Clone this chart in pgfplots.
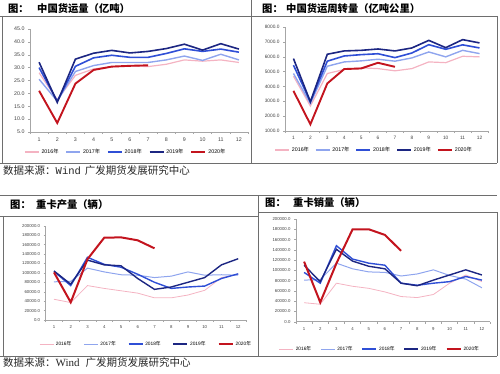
\documentclass[border=0pt]{standalone}
\usepackage{fontspec}
\setmainfont{Liberation Sans}
\newfontfamily\cjk{Noto Sans CJK SC}
\newfontfamily\wmono{Liberation Mono}
\newfontfamily\wserif{Liberation Serif}
\usepackage{pgfplots}
\pgfplotsset{compat=1.18}
\definecolor{c16}{HTML}{F4B3C2}
\definecolor{c17}{HTML}{8FA5EE}
\definecolor{c18}{HTML}{2F4FD6}
\definecolor{c19}{HTML}{1C2682}
\definecolor{c20}{HTML}{C3141E}
\definecolor{axc}{HTML}{A6A6A6}
\definecolor{tkc}{HTML}{404040}
\definecolor{frm}{HTML}{6E6E6E}
\pgfplotsset{
  ex/.style={scale only axis, anchor=south west,
    axis x line*=bottom, axis y line*=left,
    axis line style={axc, line width=0.5pt},
    xmin=0.5, xmax=12.5, xtick={1,...,12},
    major x tick style={draw=none},
    minor xtick={0.5,1.5,...,12.5},
    tick align=outside, major tick length=2pt, minor tick length=2pt,
    every tick/.style={axc, line width=0.4pt},
    minor tick style={axc, line width=0.4pt},
    tick label style={text=tkc},
    /pgf/number format/assume math mode=true,
    yticklabel style={/pgf/number format/.cd, fixed, fixed zerofill, precision=1, 1000 sep={}},
    legend columns=5,
    legend image code/.code={\draw[##1] (0pt,0pt) -- (14pt,0pt);},
    clip=false,
  },
  s16/.style={c16, line width=1.2pt, no marks},
  s17/.style={c17, line width=1.4pt, no marks},
  s18/.style={c18, line width=1.6pt, no marks},
  s19/.style={c19, line width=1.6pt, no marks},
  s20/.style={c20, line width=1.9pt, no marks},
}
\begin{document}
\begin{tikzpicture}
\path[use as bounding box] (0pt,0pt) rectangle (500pt,373pt);
% frames
\begin{scope}[frm, line width=0.7pt]
\draw (0pt,357pt) -- (497pt,357pt);
\draw (2pt,357pt) -- (2pt,210pt);
\draw (251pt,373pt) -- (251pt,210pt);
\draw (497pt,357pt) -- (497pt,210pt);
\draw (0pt,210pt) -- (497pt,210pt);
\draw (0pt,178pt) -- (497pt,178pt);
\draw (0pt,157pt) -- (258pt,157pt);
\draw (258pt,161pt) -- (497pt,161pt);
\draw (3pt,157pt) -- (3pt,17pt);
\draw (258pt,178pt) -- (258pt,17pt);
\draw (497pt,161pt) -- (497pt,17pt);
\draw (0pt,17pt) -- (497pt,17pt);
\end{scope}
% titles
\begin{scope}[font=\cjk\bfseries\fontsize{10.3}{12}\selectfont, inner sep=0pt]
\node[anchor=west] at (8pt,364pt) {图：};
\node[anchor=west] at (37pt,364pt) {中国货运量（亿吨）};
\node[anchor=west] at (262pt,364pt) {图：};
\node[anchor=west] at (286pt,364pt) {中国货运周转量（亿吨公里）};
\node[anchor=west] at (10pt,168.5pt) {图：};
\node[anchor=west] at (36pt,168.5pt) {重卡产量（辆）};
\node[anchor=west] at (265pt,170pt) {图：};
\node[anchor=west] at (293pt,170pt) {重卡销量（辆）};
\end{scope}
\begin{scope}[font=\cjk\fontsize{10.5}{12}\selectfont, inner sep=0pt, text=black!85]
\node[anchor=west] at (3pt,202pt) {数据来源：{\wmono Wind}\hspace{4pt}广发期货发展研究中心};
\node[anchor=west] at (3pt,10.3pt) {数据来源：{\wserif\fontsize{11}{12}\selectfont Wind}\hspace{6pt}广发期货发展研究中心};
\end{scope}
% ---------- chart 1
\begin{axis}[ex, at={(30pt,241pt)}, width=218pt, height=103pt,
  ymin=5, ymax=45, ytick={5,10,...,45},
  tick label style={font=\fontsize{5.3}{6}\selectfont},
  legend style={at={(0.44,-0.194)}, anchor=center, draw=none, fill=none,
    font=\fontsize{5.3}{6}\selectfont, /tikz/every even column/.append style={column sep=5pt}}]
\addplot[s16] coordinates {(1,28)(2,17.5)(3,27)(4,29.5)(5,30.3)(6,30.7)(7,30.4)(8,31.3)(9,33)(10,32.5)(11,33)(12,32)};
\addlegendentry{2016{\cjk 年}}
\addplot[s17] coordinates {(1,25.5)(2,17)(3,28.5)(4,30.8)(5,32)(6,32)(7,32)(8,33)(9,34.5)(10,32.8)(11,35.2)(12,33)};
\addlegendentry{2017{\cjk 年}}
\addplot[s18] coordinates {(1,30)(2,17)(3,30.5)(4,33.8)(5,34.8)(6,34)(7,34)(8,35.5)(9,37.3)(10,36.3)(11,37.2)(12,36)};
\addlegendentry{2018{\cjk 年}}
\addplot[s19] coordinates {(1,32.1)(2,16.5)(3,33.3)(4,35.6)(5,36.7)(6,35.7)(7,36.3)(8,37.4)(9,39.1)(10,36.8)(11,39.3)(12,37.2)};
\addlegendentry{2019{\cjk 年}}
\addplot[s20] coordinates {(1,21)(2,8.5)(3,23.8)(4,29.1)(5,30.4)(6,30.7)(7,30.9)};
\addlegendentry{2020{\cjk 年}}
\end{axis}
% ---------- chart 2
\begin{axis}[ex, at={(285pt,242pt)}, width=203pt, height=104pt,
  ymin=1000, ymax=8000, ytick={1000,2000,...,8000},
  tick label style={font=\fontsize{4.8}{5.5}\selectfont},
  legend style={at={(0.44,-0.183)}, anchor=center, draw=none, fill=none,
    font=\fontsize{5.3}{6}\selectfont, /tikz/every even column/.append style={column sep=4pt}}]
\addplot[s16] coordinates {(1,4690)(2,2680)(3,4870)(4,5140)(5,5250)(6,5200)(7,5050)(8,5200)(9,5650)(10,5600)(11,6030)(12,5990)};
\addlegendentry{2016{\cjk 年}}
\addplot[s17] coordinates {(1,4870)(2,2850)(3,5360)(4,5650)(5,5720)(6,5830)(7,5700)(8,5920)(9,6320)(10,5990)(11,6430)(12,6210)};
\addlegendentry{2017{\cjk 年}}
\addplot[s18] coordinates {(1,5430)(2,2970)(3,5700)(4,6050)(5,6140)(6,6200)(7,5940)(8,6250)(9,6810)(10,6500)(11,6800)(12,6590)};
\addlegendentry{2018{\cjk 年}}
\addplot[s19] coordinates {(1,5875)(2,2966)(3,6166)(4,6390)(5,6430)(6,6520)(7,6390)(8,6590)(9,7100)(10,6610)(11,7150)(12,6930)};
\addlegendentry{2019{\cjk 年}}
\addplot[s20] coordinates {(1,3700)(2,1450)(3,4200)(4,5170)(5,5210)(6,5590)(7,5320)};
\addlegendentry{2020{\cjk 年}}
\end{axis}
% ---------- chart 3
\begin{axis}[ex, at={(45.6pt,53pt)}, width=201pt, height=94.3pt,
  ymin=0, ymax=200000, ytick={0,20000,...,200000}, scaled y ticks=false,
  tick label style={font=\fontsize{4.3}{5}\selectfont},
  legend style={at={(0.5,-0.255)}, anchor=center, draw=none, fill=none,
    font=\fontsize{4.8}{6}\selectfont, /tikz/every even column/.append style={column sep=10pt}}]
\addplot[s16, line width=0.8pt] coordinates {(1,44000)(2,37000)(3,73000)(4,67000)(5,62000)(6,57000)(7,47000)(8,47000)(9,53000)(10,63000)(11,90000)(12,97000)};
\addlegendentry{2016{\cjk 年}}
\addplot[s17, line width=1pt] coordinates {(1,81000)(2,82000)(3,110000)(4,102000)(5,96000)(6,95000)(7,90000)(8,93000)(9,102000)(10,95000)(11,96000)(12,95000)};
\addlegendentry{2017{\cjk 年}}
\addplot[s18, line width=1.4pt] coordinates {(1,103000)(2,73000)(3,133000)(4,118000)(5,112000)(6,97000)(7,80000)(8,67000)(9,70000)(10,72000)(11,88000)(12,98000)};
\addlegendentry{2018{\cjk 年}}
\addplot[s19, line width=1.4pt] coordinates {(1,104000)(2,76000)(3,127000)(4,117000)(5,115000)(6,88000)(7,65000)(8,70000)(9,80000)(10,90000)(11,117000)(12,130000)};
\addlegendentry{2019{\cjk 年}}
\addplot[s20, line width=2pt] coordinates {(1,101000)(2,37500)(3,129000)(4,174500)(5,175300)(6,169000)(7,152000)};
\addlegendentry{2020{\cjk 年}}
\end{axis}
% ---------- chart 4
\begin{axis}[ex, at={(296pt,51.3pt)}, width=194pt, height=102.7pt,
  ymin=0, ymax=200000, ytick={0,20000,...,200000}, scaled y ticks=false,
  tick label style={font=\fontsize{4.3}{5}\selectfont},
  legend style={at={(0.433,-0.266)}, anchor=center, draw=none, fill=none,
    font=\fontsize{4.8}{6}\selectfont, /tikz/every even column/.append style={column sep=7pt}}]
\addplot[s16, line width=0.8pt] coordinates {(1,37000)(2,34000)(3,75000)(4,69000)(5,65000)(6,58000)(7,49000)(8,47000)(9,53000)(10,75000)(11,91000)(12,78000)};
\addlegendentry{2016{\cjk 年}}
\addplot[s17, line width=1pt] coordinates {(1,81000)(2,82000)(3,114000)(4,103000)(5,97000)(6,96000)(7,89000)(8,93000)(9,101000)(10,90000)(11,83000)(12,66000)};
\addlegendentry{2017{\cjk 年}}
\addplot[s18, line width=1.4pt] coordinates {(1,96000)(2,75000)(3,148000)(4,122000)(5,114000)(6,110000)(7,75000)(8,71000)(9,75000)(10,78000)(11,88000)(12,81000)};
\addlegendentry{2018{\cjk 年}}
\addplot[s19, line width=1.4pt] coordinates {(1,110000)(2,78000)(3,141000)(4,118000)(5,108000)(6,103000)(7,75000)(8,70000)(9,81000)(10,91000)(11,101000)(12,91000)};
\addlegendentry{2019{\cjk 年}}
\addplot[s20, line width=2pt] coordinates {(1,117000)(2,37700)(3,113600)(4,180000)(5,180000)(6,169000)(7,138000)};
\addlegendentry{2020{\cjk 年}}
\end{axis}
\end{tikzpicture}
\end{document}
